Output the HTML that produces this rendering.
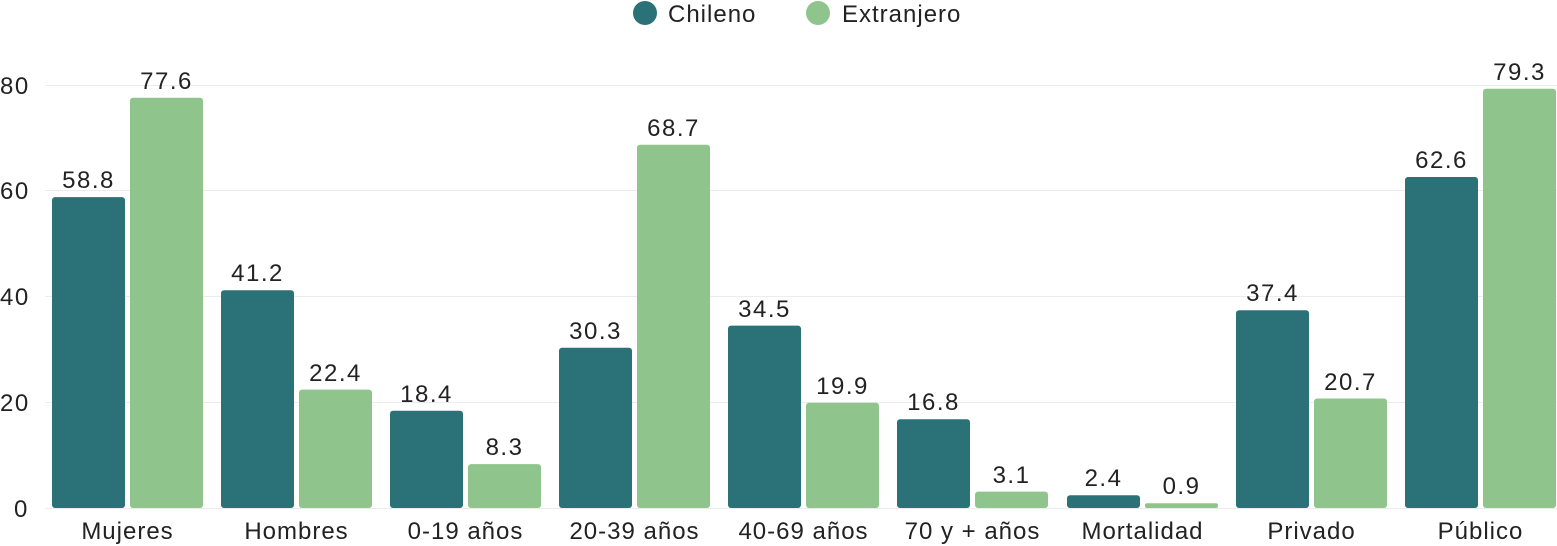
<!DOCTYPE html>
<html><head><meta charset="utf-8"><style>
html,body{margin:0;padding:0;background:#fff;}
svg{display:block;font-family:"Liberation Sans",sans-serif;}
</style></head><body>
<svg width="1557" height="546" viewBox="0 0 1557 546" xmlns="http://www.w3.org/2000/svg">
<g stroke="#ececec" stroke-width="1">
<line x1="45" x2="1557" y1="85.5" y2="85.5"/>
<line x1="45" x2="1557" y1="190.5" y2="190.5"/>
<line x1="45" x2="1557" y1="296.5" y2="296.5"/>
<line x1="45" x2="1557" y1="402.5" y2="402.5"/>
<line x1="45" x2="1557" y1="508.5" y2="508.5"/>
</g>
<g font-size="24" fill="#222" letter-spacing="1.5">
<text x="0" y="94">80</text>
<text x="0" y="199">60</text>
<text x="0" y="305">40</text>
<text x="0" y="411">20</text>
<text x="14" y="517">0</text>
</g>
<circle cx="645" cy="13" r="12" fill="#2a7178"/>
<text x="668" y="22" font-size="24" fill="#222" letter-spacing="1">Chileno</text>
<circle cx="818" cy="13" r="12" fill="#8fc58d"/>
<text x="842" y="22" font-size="24" fill="#222" letter-spacing="1">Extranjero</text>

<g fill="#2a7178">
<rect x="52" y="197.1" width="73" height="310.9" rx="3"/>
<rect x="221" y="290.2" width="73" height="217.8" rx="3"/>
<rect x="390" y="410.7" width="73" height="97.3" rx="3"/>
<rect x="559" y="347.8" width="73" height="160.2" rx="3"/>
<rect x="728" y="325.6" width="73" height="182.4" rx="3"/>
<rect x="897" y="419.2" width="73" height="88.8" rx="3"/>
<rect x="1067" y="495.3" width="73" height="12.7" rx="3"/>
<rect x="1236" y="310.2" width="73" height="197.8" rx="3"/>
<rect x="1405" y="177.0" width="73" height="331.0" rx="3"/>
</g>
<g fill="#8fc58d">
<rect x="130" y="97.7" width="73" height="410.3" rx="3"/>
<rect x="299" y="389.6" width="73" height="118.4" rx="3"/>
<rect x="468" y="464.1" width="73" height="43.9" rx="3"/>
<rect x="637" y="144.7" width="73" height="363.3" rx="3"/>
<rect x="806" y="402.8" width="73" height="105.2" rx="3"/>
<rect x="975" y="491.6" width="73" height="16.4" rx="3"/>
<rect x="1145" y="503.2" width="73" height="4.8" rx="2"/>
<rect x="1314" y="398.5" width="73" height="109.5" rx="3"/>
<rect x="1483" y="88.7" width="73" height="419.3" rx="3"/>
</g>

<g font-size="24" fill="#222" text-anchor="middle" letter-spacing="1.5">
<text x="88.5" y="188">58.8</text>
<text x="166.5" y="89">77.6</text>
<text x="257.5" y="281">41.2</text>
<text x="335.5" y="381">22.4</text>
<text x="426.5" y="402">18.4</text>
<text x="504.5" y="455">8.3</text>
<text x="595.5" y="339">30.3</text>
<text x="673.5" y="136">68.7</text>
<text x="764.5" y="317">34.5</text>
<text x="842.5" y="394">19.9</text>
<text x="933.5" y="410">16.8</text>
<text x="1011.5" y="483">3.1</text>
<text x="1103.5" y="486">2.4</text>
<text x="1181.5" y="494">0.9</text>
<text x="1272.5" y="301">37.4</text>
<text x="1350.5" y="390">20.7</text>
<text x="1441.5" y="168">62.6</text>
<text x="1519.5" y="80">79.3</text>
</g>

<g font-size="24" fill="#222" text-anchor="middle" letter-spacing="1">
<text x="127.5" y="539">Mujeres</text>
<text x="296.5" y="539">Hombres</text>
<text x="465.5" y="539">0-19 años</text>
<text x="634.5" y="539">20-39 años</text>
<text x="803.5" y="539">40-69 años</text>
<text x="972.5" y="539">70 y + años</text>
<text x="1142.5" y="539">Mortalidad</text>
<text x="1311.5" y="539">Privado</text>
<text x="1480.5" y="539">Público</text>
</g>
</svg>
</body></html>
